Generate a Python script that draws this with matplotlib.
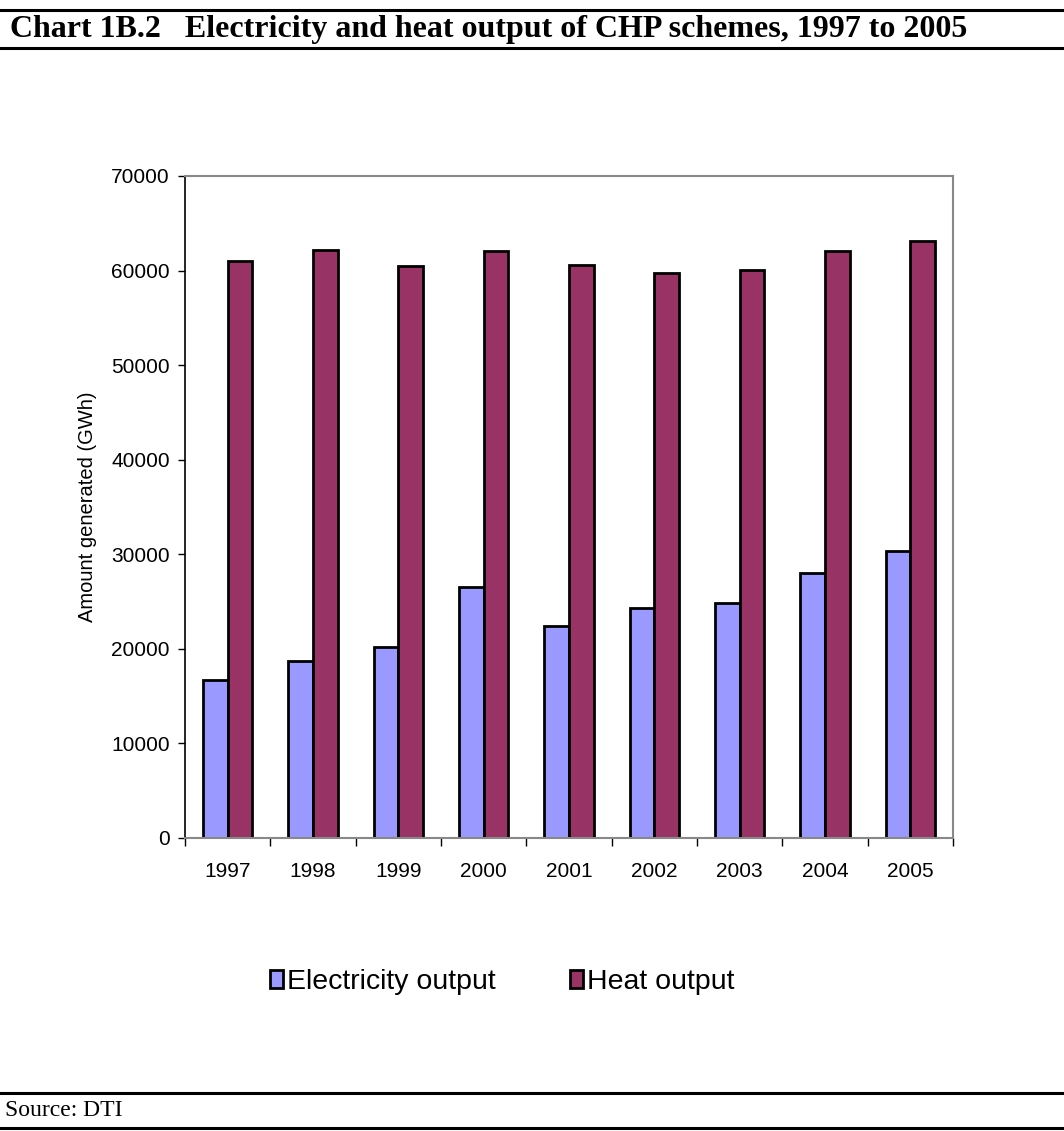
import numpy as np
import matplotlib
matplotlib.use("Agg")
import matplotlib.pyplot as plt
from matplotlib.lines import Line2D

years = ["1997", "1998", "1999", "2000", "2001", "2002", "2003", "2004", "2005"]
electricity = [16700, 18700, 20200, 26500, 22400, 24300, 24850, 28000, 30300]
heat = [61000, 62200, 60450, 62100, 60600, 59750, 60050, 62100, 63100]

fig = plt.figure(figsize=(10.64, 11.31), dpi=100)
ax = fig.add_axes([0.1739, 0.2591, 0.7218, 0.5853])

x = np.arange(len(years))
w = 0.29
ax.bar(x - w/2, electricity, w, color="#9999ff", edgecolor="black", linewidth=2, label="Electricity output")
ax.bar(x + w/2, heat, w, color="#993366", edgecolor="black", linewidth=2, label="Heat output")

ax.set_xlim(-0.5, len(years) - 0.5)
ax.set_ylim(0, 70000)
ax.set_yticks(range(0, 70001, 10000))
ax.set_xticks(x)
ax.set_xticklabels(years)
ax.set_xticks(np.arange(-0.5, len(years), 1), minor=True)
ax.tick_params(axis="x", which="major", length=0, pad=17, labelsize=15)
ax.tick_params(axis="x", which="minor", length=6, width=1, color="black", direction="out")
ax.tick_params(axis="y", length=5, width=1, labelsize=15, direction="out", pad=6)
for lab in ax.get_xticklabels() + ax.get_yticklabels():
    lab.set_family("Liberation Sans")

ax.spines["left"].set_color("black")
ax.spines["left"].set_linewidth(1.2)
for s in ["top", "right", "bottom"]:
    ax.spines[s].set_color("#888888")
    ax.spines[s].set_linewidth(1.5)

ax.set_ylabel("Amount generated (GWh)", family="Liberation Sans", fontsize=14.5, labelpad=10)

fig.legend(loc="center", bbox_to_anchor=(0.472, 0.132), ncol=2, frameon=False,
           prop={"family": "Liberation Sans", "size": 20.5}, handlelength=0.45, handleheight=0.6,
           handletextpad=0.15, columnspacing=2.6)

# header / footer rules
for yy in [1 - 10/1131, 1 - 48/1131, 1 - 1093/1131, 1 - 1128/1131]:
    fig.add_artist(Line2D([0, 1], [yy, yy], color="black", linewidth=2.2, transform=fig.transFigure))
fig.text(0.009, 1 - 30/1131, "Chart 1B.2   Electricity and heat output of CHP schemes, 1997 to 2005",
         family="Liberation Serif", weight="bold", fontsize=23, va="center", ha="left")
fig.text(0.005, 1 - 1111/1131, "Source: DTI", family="Liberation Serif", fontsize=17, va="center", ha="left")

fig.savefig("out.png", dpi=100)
